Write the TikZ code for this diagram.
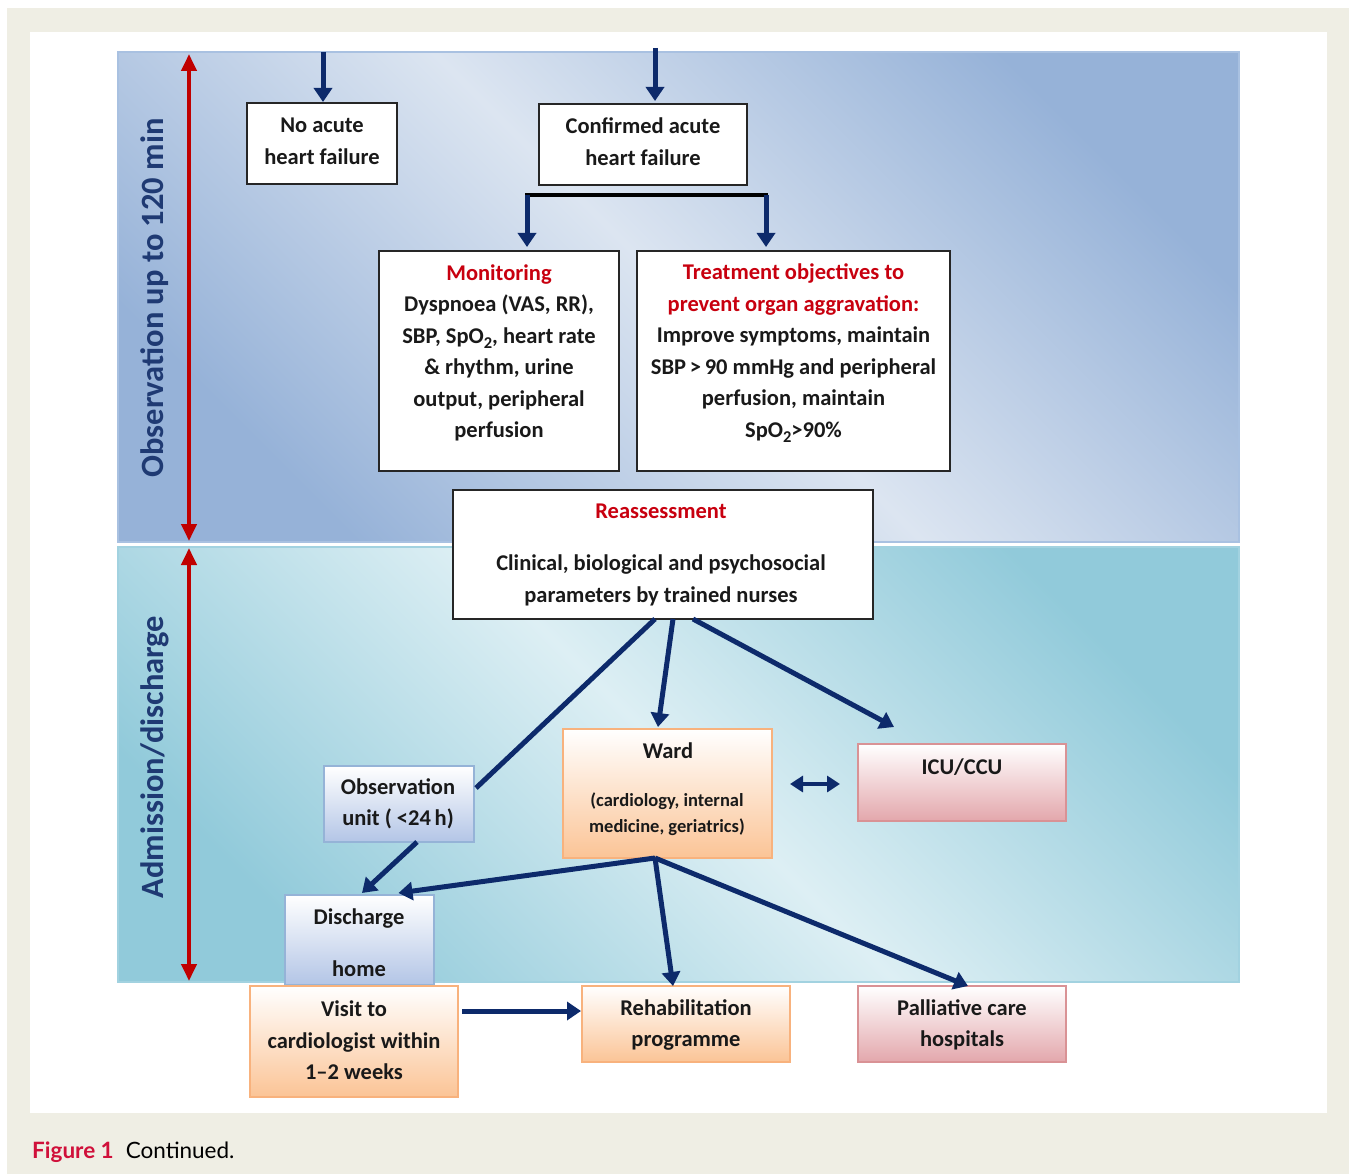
\documentclass[tikz,border=0pt]{standalone}
\usepackage{fontspec}
\setmainfont{Carlito}
\newfontfamily\capfont{Lato}
\usetikzlibrary{arrows.meta,calc}
\definecolor{navy}{HTML}{0D2A6B}
\definecolor{redarr}{HTML}{C00000}
\definecolor{redt}{HTML}{C8000F}
\definecolor{labnavy}{HTML}{1F3A73}
\definecolor{beige}{HTML}{EFEEE4}
\definecolor{capred}{HTML}{D0103A}
\definecolor{bluedark}{HTML}{96B2D8}
\definecolor{bluelight}{HTML}{DCE5F1}
\definecolor{bluebord}{HTML}{A9C1E1}
\definecolor{tealdark}{HTML}{91CADA}
\definecolor{teallight}{HTML}{DDEFF4}
\definecolor{tealbord}{HTML}{A2D2E0}
\definecolor{bxblue}{HTML}{B3C5E6}
\definecolor{bxbluebord}{HTML}{95B3D7}
\definecolor{bxorange}{HTML}{FBC496}
\definecolor{bxorangebord}{HTML}{F8B27D}
\definecolor{bxpink}{HTML}{E3A7AC}
\definecolor{bxpinkbord}{HTML}{D99295}
\newcommand\sptwo{SpO\raisebox{-5pt}{\fontsize{16.5}{16.5}\selectfont 2}}
\begin{document}
\begin{tikzpicture}[x=1pt,y=-1pt,
  wbox/.style={draw=black!85,fill=white,line width=1.3pt,inner sep=0pt,outer sep=0pt},
  bluebox/.style={draw=bxbluebord,line width=1.3pt,top color=white,bottom color=bxblue,inner sep=0pt,outer sep=0pt},
  orbox/.style={draw=bxorangebord,line width=1.3pt,top color=white,bottom color=bxorange,inner sep=0pt,outer sep=0pt},
  pkbox/.style={draw=bxpinkbord,line width=1.3pt,top color=white,bottom color=bxpink,inner sep=0pt,outer sep=0pt},
  txt/.style={align=center,inner sep=0pt,font=\bfseries\fontsize{22.5}{31.5}\selectfont,text=black!90},
  smalltxt/.style={align=center,inner sep=0pt,font=\bfseries\fontsize{18.5}{26}\selectfont,text=black!90},
  navarr/.style={draw=navy,line width=5pt,-{Triangle[width=18pt,length=14pt]}},
  navline/.style={draw=navy,line width=5pt},
  redarrow/.style={draw=redarr,line width=4pt,{Triangle[width=15pt,length=17pt]}-{Triangle[width=15pt,length=17pt]}},
  sidelab/.style={rotate=90,font=\bfseries\fontsize{32.5}{34}\selectfont,text=labnavy,inner sep=0pt}
]
\useasboundingbox (0,0) rectangle (1349,1174);
% background
\fill[white] (0,0) rectangle (1349,1174);
\fill[beige] (7,8) rectangle (1349,1174);
\fill[white] (30,32) rectangle (1327,1113);
% panels
\shade[top color=bluedark,bottom color=bluedark,middle color=bluelight,shading angle=-45] (118,52) rectangle (1239,542);
\draw[bluebord,line width=1.5pt] (118,52) rectangle (1239,542);
\shade[top color=tealdark,bottom color=tealdark,middle color=teallight,shading angle=-45] (118,547) rectangle (1239,982);
\draw[tealbord,line width=1.5pt] (118,547) rectangle (1239,982);

% side labels and red arrows
\node[sidelab] (lab1) at (155,298) {Observation up to 120 min};
\node[sidelab] (lab2) at (155,757) {Admission/discharge};
\coordinate (r1a) at (189,54);
\coordinate (r1b) at (189,541);
\coordinate (r2a) at (189,548);
\coordinate (r2b) at (189,981);
\draw[redarrow] (r1a) -- (r1b);
\draw[redarrow] (r2a) -- (r2b);

% boxes
\node[wbox,minimum width=150pt,minimum height=81pt] (noahf) at (322,143.5) {};
\node[txt] (noahft) at (322,141.5) {No acute\\heart failure};
\node[wbox,minimum width=208pt,minimum height=81pt] (conf) at (643,144.5) {};
\node[txt] (conft) at (643,141.5) {Confirmed acute\\heart failure};
\node[wbox,minimum width=240pt,minimum height=220pt] (mon) at (499,361) {};
\node[txt] (mont) at (499,353) {{\color{redt}Monitoring}\\Dyspnoea (VAS, RR),\\SBP, \sptwo, heart rate\\\&{} rhythm, urine\\output, peripheral\\perfusion};
\node[wbox,minimum width=313pt,minimum height=220pt] (treat) at (793.5,361) {};
\node[txt] (treatt) at (793.5,353) {{\color{redt}Treatment objectives to}\\{\color{redt}prevent organ aggravation:}\\Improve symptoms, maintain\\SBP\,>\,90 mmHg and peripheral\\perfusion, maintain\\\sptwo>90\%};
\node[wbox,minimum width=420pt,minimum height=129pt] (reass) at (663,554.5) {};
\node[txt] (reasst) at (661,555) {{\color{redt}Reassessment}\\[20.5pt]Clinical, biological and psychosocial\\parameters by trained nurses};

\node[bluebox,minimum width=150pt,minimum height=76pt] (obs) at (399,804) {};
\node[txt] (obst) at (398,804) {Observation\\unit ( <24\,h)};
\node[orbox,minimum width=209pt,minimum height=129pt] (ward) at (667.5,793.5) {};
\node[txt] (wardt) at (668,751) {Ward};
\node[smalltxt] (wardst) at (667,814) {(cardiology, internal\\medicine, geriatrics)};
\node[pkbox,minimum width=208pt,minimum height=77pt] (icu) at (962,782.5) {};
\node[txt] (icut) at (962,767) {ICU/CCU};
\node[bluebox,minimum width=149pt,minimum height=90pt] (disc) at (359.5,940) {};
\node[txt] (disct) at (359,943) {Discharge\\[20.5pt]home};
\node[orbox,minimum width=208pt,minimum height=111pt] (visit) at (354,1041.5) {};
\node[txt] (visitt) at (354,1040.5) {Visit to\\cardiologist within\\1--2 weeks};
\node[orbox,minimum width=208pt,minimum height=76pt] (rehab) at (686,1024) {};
\node[txt] (rehabt) at (686,1025) {Rehabilitation\\programme};
\node[pkbox,minimum width=208pt,minimum height=76pt] (pall) at (962,1024) {};
\node[txt] (pallt) at (962,1025) {Palliative care\\hospitals};

% connectors
\coordinate (in1) at (323,52);
\coordinate (in2) at (655,48);
\draw[navarr] (in1) -- ([shift={(1,-1)}]noahf.north);
\draw[navarr] (in2) -- ([shift={(12,-3)}]conf.north);
\coordinate (barl) at (527,195);
\coordinate (barr) at (766,195);
\draw[black,line width=4pt] ([xshift=-2pt]barl) -- ([xshift=2pt]barr);
\draw[navarr] (barl) -- ([shift={(28,-4)}]mon.north);
\draw[navarr] (barr) -- ([shift={(-27.5,-4)}]treat.north);

\draw[navline] ([xshift=-8pt]reass.south) -- ([shift={(2,-16)}]obs.east);
\draw[navarr] ([xshift=10pt]reass.south) -- ([shift={(-9.5,-2)}]ward.north);
\draw[navarr] ([xshift=30pt]reass.south) -- ([shift={(-68,-17)}]icu.north);
\draw[navarr] ([xshift=18pt]obs.south) -- ([shift={(2.5,-2)}]disc.north);
\draw[navarr] ([xshift=-12.5pt]ward.south) -- ([shift={(39,-2)}]disc.north);
\draw[navarr] ([xshift=-12.5pt]ward.south) -- ([shift={(-13,0)}]rehab.north);
\draw[navarr] ([xshift=-12.5pt]ward.south) -- ([shift={(6,0)}]pall.north);
\draw[draw=navy,line width=4.5pt,{Triangle[width=16pt,length=13pt]}-{Triangle[width=16pt,length=13pt]}] ([shift={(18,-9.5)}]ward.east) -- ([shift={(-18,1.5)}]icu.west);
\draw[navarr] ([shift={(4,-30.5)}]visit.east) -- ([shift={(-1,-13)}]rehab.west);

% caption
\node[anchor=base west,inner sep=0pt,font=\capfont\fontsize{22.5}{26}\selectfont] (cap) at (32,1158) {{\color{capred}\bfseries Figure 1}\hspace{12pt}Continued.};
\end{tikzpicture}
\end{document}
